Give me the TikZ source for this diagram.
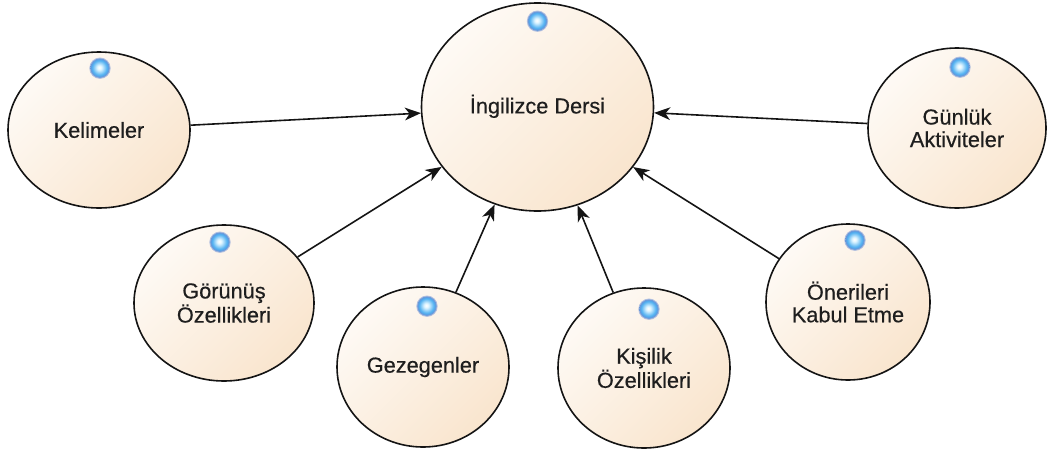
\documentclass[tikz,border=0pt]{standalone}
\usepackage{fontspec}
\setmainfont{Liberation Sans}
\newfontfamily\labelfont[FakeBold=0.45]{Liberation Sans}
\usetikzlibrary{shapes.geometric,arrows.meta,calc}

\definecolor{edge}{HTML}{141414}
\definecolor{creamlight}{HTML}{FEFAF5}
\definecolor{creamdark}{HTML}{F9E5CE}
\definecolor{labeltext}{HTML}{1E1E1E}
\definecolor{beadhi}{HTML}{DDF4FF}
\definecolor{beadmid}{HTML}{5CB6F2}
\definecolor{beadlow}{HTML}{2A74D4}
\definecolor{beadrim}{HTML}{2E55A6}
\definecolor{beadglow}{HTML}{7F9BD6}

% glossy blue bead shown at the top of every use case
\pgfdeclareradialshading{bluebead}{\pgfpoint{-2bp}{2bp}}{%
  color(0bp)=(white); color(6bp)=(beadhi); color(18bp)=(beadmid);
  color(32bp)=(beadlow); color(50bp)=(beadrim)}

\tikzset{
  usecase/.style={ellipse, draw=edge, line width=1.2pt, inner sep=0pt,
    top color=creamlight, bottom color=creamdark, shading angle=45,
    font=\labelfont\fontsize{16.3}{16.9}\selectfont, text=labeltext, align=center},
  bead/.style={circle, inner sep=0pt, minimum size=14.5pt, shading=bluebead,
    draw=beadglow, draw opacity=0.6, line width=1.5pt},
  arr/.style={draw=edge, line width=1.2pt,
    -{Stealth[length=12pt,width=9.5pt,inset=3.5pt]}}
}

\begin{document}
\begin{tikzpicture}[x=0.75pt,y=-0.75pt]
\useasboundingbox (0,0) rectangle (1049,454);

% use cases
\node[usecase, minimum width=174pt, minimum height=156pt] (main) at (537.5,107)
  {\raisebox{4.5pt}{İngilizce Dersi}};
\node[usecase, minimum width=136.5pt, minimum height=117pt] (kel) at (99,130) {Kelimeler};
\node[usecase, minimum width=135pt, minimum height=117pt] (gor) at (224,303) {Görünüş\\Özellikleri};
\node[usecase, minimum width=129pt, minimum height=120pt] (gez) at (423,367) {Gezegenler};
\node[usecase, minimum width=129pt, minimum height=120pt] (kis) at (644,368) {Kişilik\\Özellikleri};
\node[usecase, minimum width=123pt, minimum height=117pt] (one) at (848,302) {Önerileri\\Kabul Etme};
\node[usecase, minimum width=133.5pt, minimum height=120pt] (gun) at (957,128) {Günlük\\Aktiviteler};

% beads
\node[bead] (mainb) at ($(main.north)+(0,19)$) {};
\node[bead] (kelb) at ($(kel.north)+(1,17)$) {};
\node[bead] (gorb) at ($(gor.north)+(-4,18)$) {};
\node[bead] (gezb) at ($(gez.north)+(4,20)$) {};
\node[bead] (kisb) at ($(kis.north)+(5,22)$) {};
\node[bead] (oneb) at ($(one.north)+(7,17)$) {};
\node[bead] (gunb) at ($(gun.north)+(3,20)$) {};

% connectors
\draw[arr] (kel) -- (main);
\draw[arr] (gor) -- (main);
\draw[arr] (gez) -- (main);
\draw[arr] (kis) -- (main);
\draw[arr] (one) -- (main);
\draw[arr] (gun) -- (main);
\end{tikzpicture}
\end{document}
